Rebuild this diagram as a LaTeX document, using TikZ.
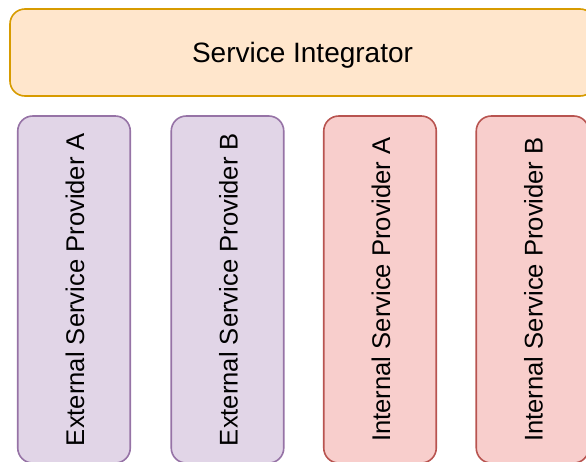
\documentclass[tikz,border=0pt]{standalone}
\usepackage{fontspec}
\setmainfont{Liberation Sans}
\definecolor{orangefill}{HTML}{FFE6CC}
\definecolor{orangeline}{HTML}{D79B00}
\definecolor{purplefill}{HTML}{E1D5E7}
\definecolor{purpleline}{HTML}{9673A6}
\definecolor{redfill}{HTML}{F8CECC}
\definecolor{redline}{HTML}{B85450}
\begin{document}
\begin{tikzpicture}[x=1pt,y=1pt,
  box/.style={draw, line width=1.6pt, rounded corners=15pt, inner sep=0pt},
  topbox/.style={box, fill=orangefill, draw=orangeline,
    minimum width=585pt, minimum height=87pt,
    text height=20pt, text depth=0pt,
    font=\fontsize{28}{32}\selectfont},
  column/.style={box, rotate=90, minimum width=347pt, minimum height=112.5pt,
    text height=20pt, text depth=0pt,
    font=\fontsize{25.6}{30}\selectfont},
  external/.style={column, fill=purplefill, draw=purpleline},
  internal/.style={column, fill=redfill, draw=redline}]
\useasboundingbox (0,0) rectangle (586,-461);

% integrator bar across the top
\node[topbox] (integrator) at (302.5,-52.5) {Service Integrator};

% provider columns below it
\node[external] (extA) at (74,-289.5) {External Service Provider A};
\node[external] (extB) at (227.5,-289.5) {External Service Provider B};
\node[internal] (intA) at (380,-289.5) {Internal Service Provider A};
\node[internal] (intB) at (532.5,-289.5) {Internal Service Provider B};
\end{tikzpicture}
\end{document}
